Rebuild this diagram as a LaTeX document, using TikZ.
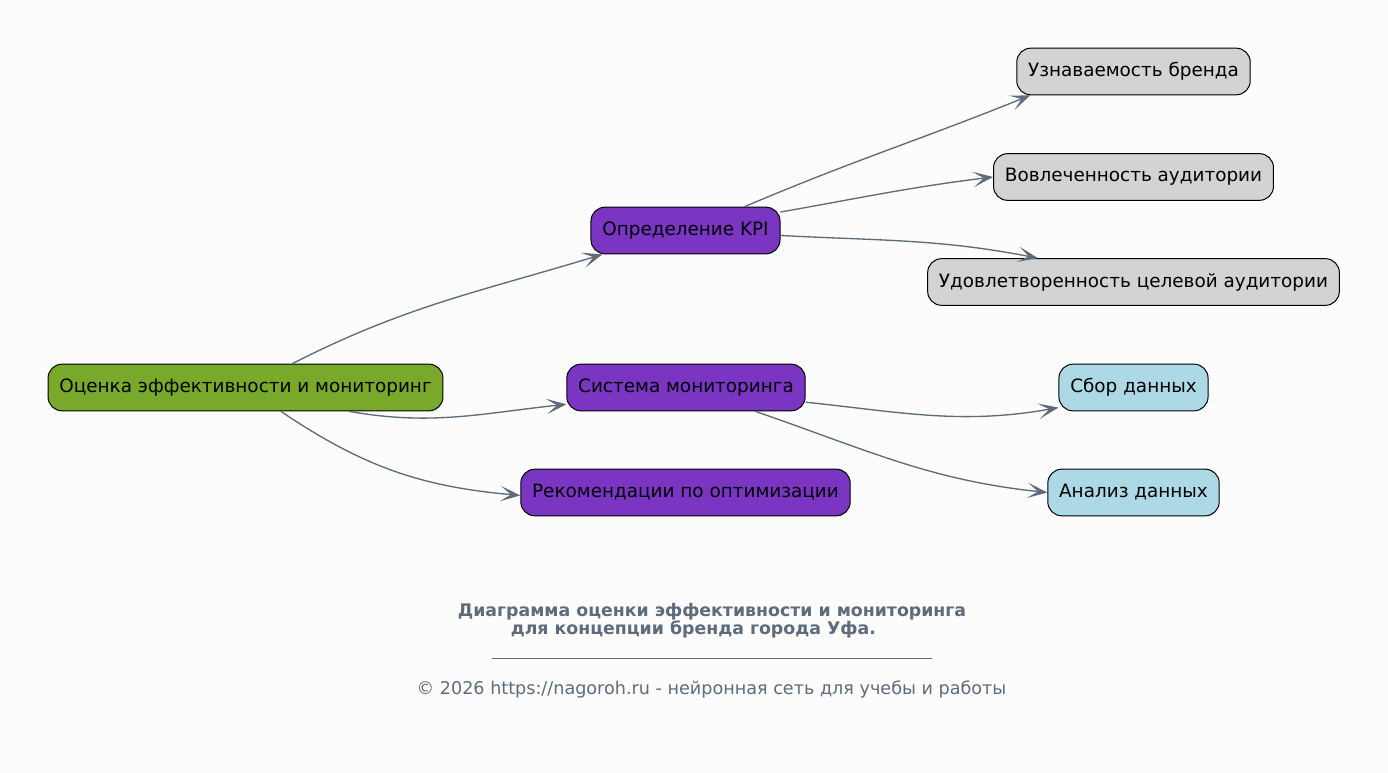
\documentclass[tikz,border=0pt]{standalone}
\usepackage{fontspec}
\setmainfont{DejaVu Sans}
\usetikzlibrary{arrows.meta}
\definecolor{bgcol}{HTML}{FCFCFC}
\definecolor{slate}{HTML}{5D6B7A}
\definecolor{rootgreen}{HTML}{78A92A}
\definecolor{stepviolet}{HTML}{7A35C3}
\definecolor{kpigray}{HTML}{D3D3D3}
\definecolor{dataBlue}{HTML}{ADD8E6}
\begin{document}
\begin{tikzpicture}[
x=0.75pt, y=0.75pt,
every node/.style={draw, rounded corners=10.5pt, minimum height=35pt,
  inner xsep=8.5pt, font=\fontsize{13.8}{17}\selectfont, line width=0.75pt},
rootbox/.style={fill=rootgreen},
stepbox/.style={fill=stepviolet},
kpibox/.style={fill=kpigray},
databox/.style={fill=dataBlue},
link/.style={draw=slate, line width=1pt,
  -{Stealth[length=15pt,width=11.5pt,inset=8pt,line width=0.8pt]}},
plain/.style={draw=none, rounded corners=0pt, minimum height=0pt, inner sep=0pt, text=slate}
]
\fill[bgcol] (0,0) rectangle (1388,-773);
\useasboundingbox (0,0) rectangle (1388,-773);

\node[rootbox] (root) at (245.5,-387.5) {Оценка эффективности и мониторинг};
\node[stepbox] (kpi) at (685.5,-230.5) {Определение KPI};
\node[stepbox] (monitor) at (686,-387.5) {Система мониторинга};
\node[stepbox] (optim) at (685.5,-492.5) {Рекомендации по оптимизации};
\node[kpibox] (aware) at (1133.5,-71.5) {Узнаваемость бренда};
\node[kpibox] (engage) at (1133.5,-177) {Вовлеченность аудитории};
\node[kpibox] (satisf) at (1133.5,-282) {Удовлетворенность целевой аудитории};
\node[databox] (collect) at (1133.5,-387.5) {Сбор данных};
\node[databox] (analyse) at (1133.5,-492.5) {Анализ данных};

% links
\draw[link] (root.27) to[out=27,in=197] (kpi.196);
\draw[link] (root.-13) to[out=-10,in=186] (monitor.188);
\draw[link] (root.-34) to[out=-34,in=175] (optim.181);
\draw[link] (kpi.22) to[out=23,in=202] (aware.193);
\draw[link] (kpi.11) to[out=10,in=187] (engage.180);
\draw[link] (kpi.-3) to[out=-3,in=169] (satisf.166);
\draw[link] (monitor.-7) to[out=-6,in=190] (collect.195);
\draw[link] (monitor.-19) to[out=-19,in=174] (analyse.180);

% caption
\node[plain, align=center, font=\fontsize{13}{13.5}\selectfont\bfseries] (title) at (712,-621)
  {Диаграмма оценки эффективности и мониторинга\\для концепции бренда города Уфа.\hspace*{28pt}};
\coordinate (ruleL) at (492,-658);
\coordinate (ruleR) at (932,-658);
\draw[slate, line width=0.75pt] (ruleL) -- (ruleR);
\node[plain, font=\fontsize{13.2}{14}\selectfont] (footer) at (711.5,-689)
  {© 2026 https://nagoroh.ru - нейронная сеть для учебы и работы};
\end{tikzpicture}
\end{document}
